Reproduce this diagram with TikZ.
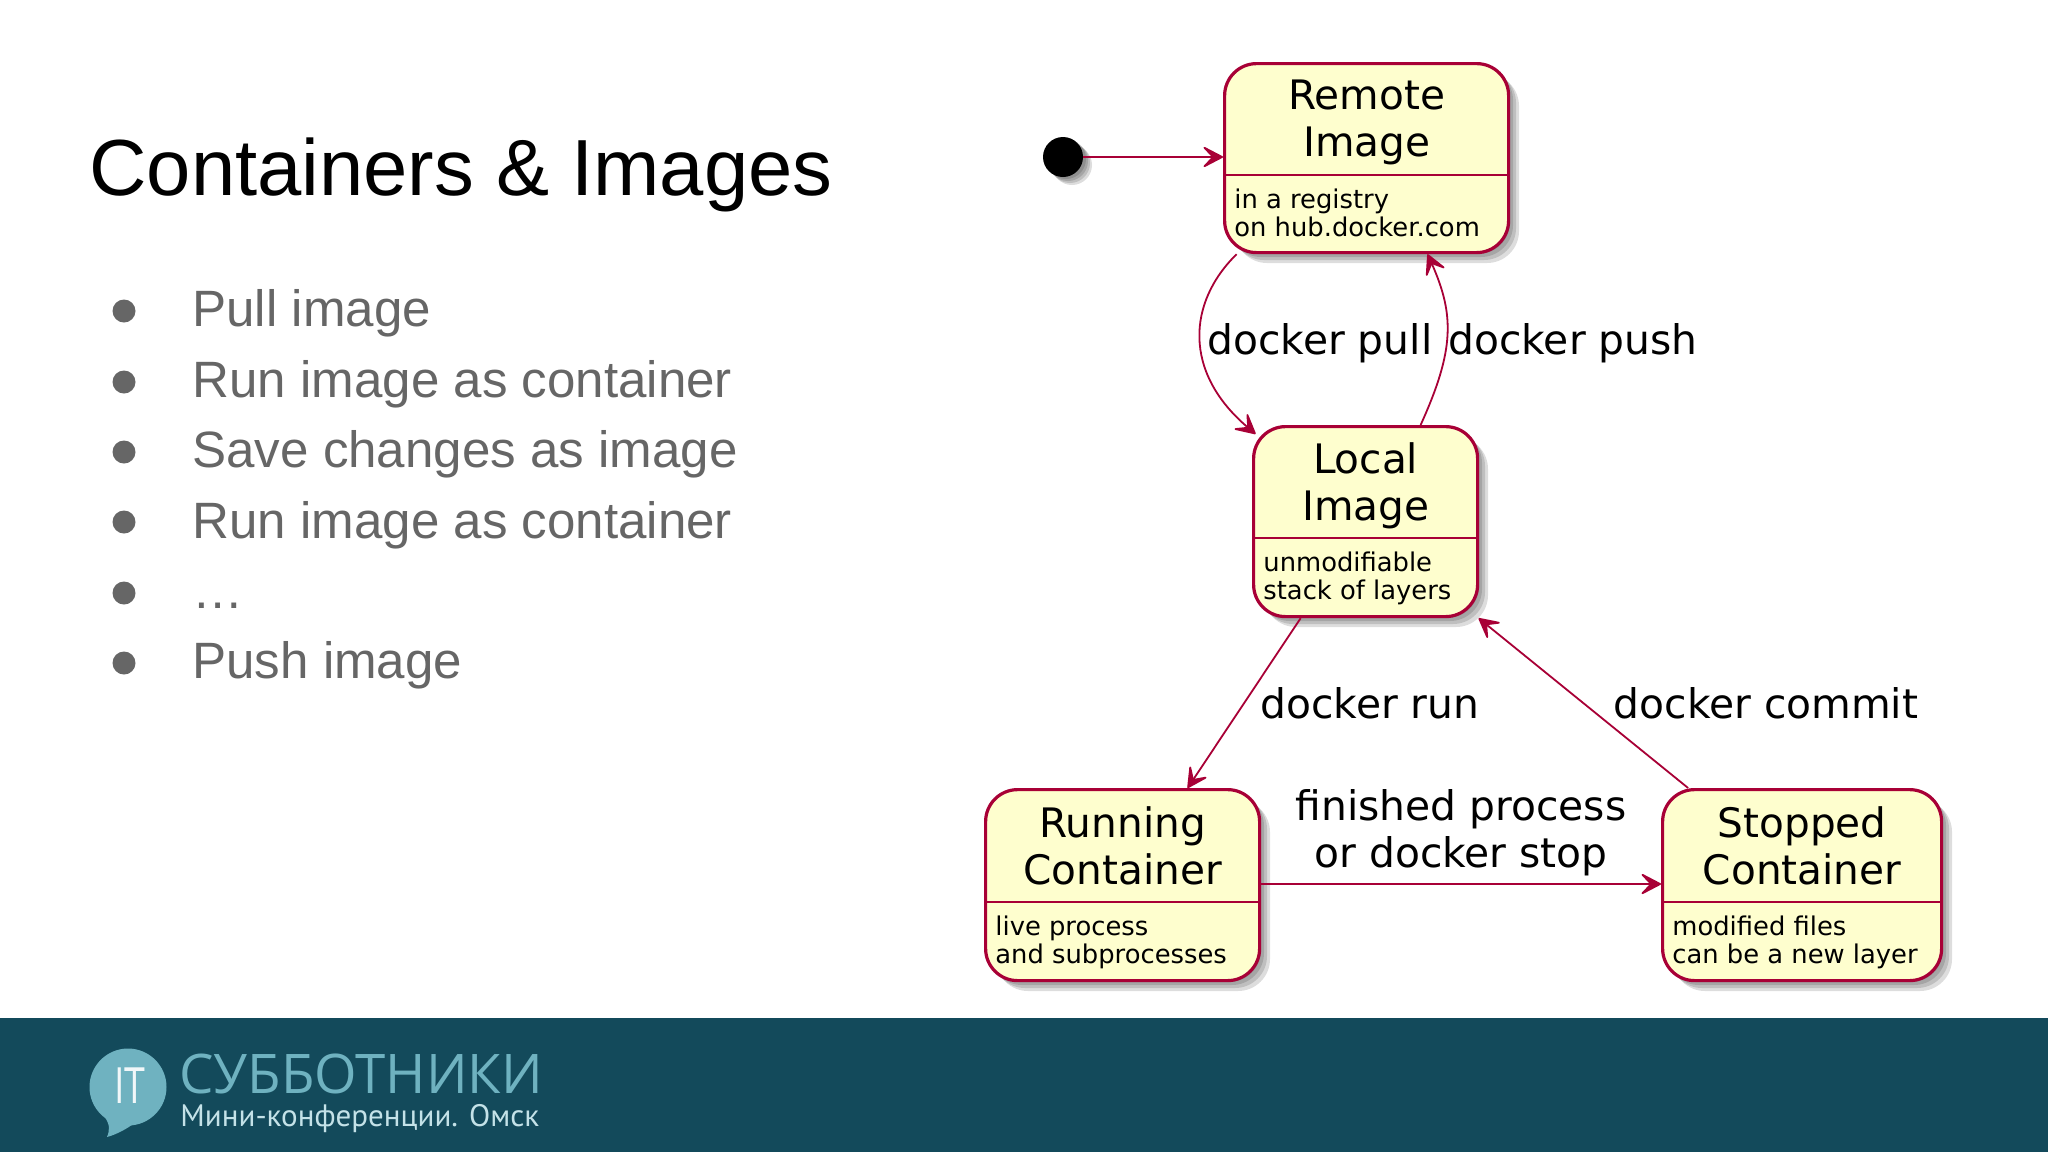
\documentclass[tikz,border=0pt]{standalone}
\usepackage{fontspec}
\setmainfont{Liberation Sans}
\newfontfamily\dejavu{DejaVu Sans}
\newfontfamily\logofont{Open Sans}
\newfontfamily\logosub{PT Sans}
\usetikzlibrary{arrows.meta,calc}
\definecolor{umlborder}{HTML}{A80036}
\definecolor{umlfill}{HTML}{FEFECE}
\definecolor{banner}{HTML}{134A5B}
\definecolor{bullettext}{HTML}{666666}
\definecolor{logoblue}{HTML}{6FB2C0}
\definecolor{logolight}{HTML}{C4E2E8}
\tikzset{
  statebox/.style={draw=umlborder,line width=1.6pt,fill=umlfill,rounded corners=16pt,inner sep=0pt,anchor=north west},
  shadowbox/.style={fill=black,fill opacity=0.135,draw=none,rounded corners=16pt},
  divider/.style={draw=umlborder,line width=1.2pt},
  flow/.style={draw=umlborder,line width=0.9pt,-{Stealth[length=12pt,width=12.5pt,inset=6pt,round]}},
  statetitle/.style={font=\dejavu\fontsize{20.3}{23.5}\selectfont,align=center,anchor=center,inner sep=0pt},
  statebody/.style={font=\dejavu\fontsize{12.9}{14}\selectfont,align=left,anchor=north west,inner sep=0pt},
  edgelabel/.style={font=\dejavu\fontsize{20.4}{23.5}\selectfont,align=center,inner sep=0pt,anchor=center},
  bullettxt/.style={font=\fontsize{25.55}{30}\selectfont,text=bullettext,anchor=base west,inner sep=0pt},
  bulletdot/.style={circle,fill=bullettext,minimum size=11.5pt,inner sep=0pt},
}
% #1 name, #2 left, #3 top, #4 right, #5 bottom, #6 divider y, #7 title, #8 body, #9 title offset
\newcommand{\umlstate}[9]{
  \foreach \d in {3,6,9,12}{
    \fill[shadowbox] ($(#2,#3)+(\d,\d)$) rectangle ($(#4,#5)+(\d,\d)$);
  }
  \node[statebox,minimum width={(#4-#2)*0.5pt},minimum height={(#5-#3)*0.5pt}] (#1) at (#2,#3) {};
  \coordinate (#1dl) at (#2,#6);
  \coordinate (#1dr) at (#4,#6);
  \draw[divider] (#1dl) -- (#1dr);
  \node[statetitle] (#1title) at ($($(#1.north)!0.5!(#1.north|-#1dl)$)+(0,#9)$) {#7};
  \node[statebody] (#1body) at ($(#1dl)+(11,13)$) {#8};
}
\begin{document}
\begin{tikzpicture}[x=0.5pt,y=-0.5pt]
\useasboundingbox (0,0) rectangle (2048,1152);
\fill[white] (0,0) rectangle (2048,1152);
\node[font=\fontsize{39.8}{44}\selectfont,anchor=base west,inner sep=0pt] (title) at (89,195) {Containers \& Images};
\node[bullettxt] (t1) at (192,326) {Pull image};
\node[bullettxt] (t2) at (192,397) {Run image as container};
\node[bullettxt] (t3) at (192,467) {Save changes as image};
\node[bullettxt] (t4) at (192,538) {Run image as container};
\node[bullettxt] (t5) at (192,608) {…};
\node[bullettxt] (t6) at (192,678) {Push image};
\node[bulletdot] (b1) at (124,311) {};
\node[bulletdot] (b2) at (124,382) {};
\node[bulletdot] (b3) at (124,452) {};
\node[bulletdot] (b4) at (124,522) {};
\node[bulletdot] (b5) at (124,593) {};
\node[bulletdot] (b6) at (124,663) {};

\foreach \d in {2,4,6,8}{\fill[shadowbox] (1064+\d,157+\d) circle (20);}
\node[circle,fill=black,minimum size=20pt,inner sep=0pt] (start) at (1063,157) {};
\umlstate{remote}{1223}{62}{1507}{251}{175}{Remote\\Image}{in a registry\\on hub.docker.com}{4}
\umlstate{local}{1252}{425}{1476}{615}{538}{Local\\Image}{unmodifiable\\stack of layers}{4}
\umlstate{running}{984}{788}{1258}{979}{902}{Running\\Container}{live process\\and subprocesses}{1}
\umlstate{stopped}{1661}{788}{1940}{979}{902}{Stopped\\Container}{modified files\\can be a new layer}{1}

\draw[flow] (start) -- (remote.west|-start);
\draw[flow] ([shift={(-130,0)}]remote.south) .. controls ([shift={(-179,48)}]remote.south) and ([shift={(-184,118)}]remote.south) .. ([shift={(-110,9)}]local.north);
\draw[flow] ([shift={(55,0)}]local.north) .. controls ([shift={(89,-75)}]local.north) and ([shift={(89,-110)}]local.north) .. ([shift={(61,0)}]remote.south);
\draw[flow] ([shift={(-65,0)}]local.south) -- ([shift={(65,0)}]running.north);
\draw[flow] ([shift={(-114,0)}]stopped.north) -- ([shift={(113,0)}]local.south);
\draw[flow] (running.east|-1260,884) -- (stopped.west|-1662,884);

\node[edgelabel] (pull) at (1320,343) {docker pull};
\node[edgelabel] (push) at (1573,343) {docker push};
\node[edgelabel] (run) at (1370,703) {docker run};
\node[edgelabel] (commit) at (1766,703) {docker commit};
\node[edgelabel] (finished) at (1461,833) {finished process\\or docker stop};

\fill[banner] (0,1018) rectangle (2048,1152);
\fill[logoblue] (128,1087) circle (38.5);
\fill[logoblue] (104,1116) .. controls (110,1124) and (110,1130) .. (107,1137) .. controls (118,1134) and (128,1128) .. (136,1122) -- cycle;
\node[font=\logofont\fontsize{25}{27}\selectfont,text=white!90!logoblue,inner sep=0pt,xscale=0.75] (it) at (130,1086) {IT};
\node[font=\logofont\fontsize{27.3}{30}\selectfont,text=logoblue,anchor=base west,inner sep=0pt] (sub) at (179,1093) {СУББОТНИКИ};
\node[font=\logosub\fontsize{15.5}{17}\selectfont,text=logolight,anchor=base west,inner sep=0pt] (mini) at (180,1126) {Мини-конференции. Омск};
\end{tikzpicture}
\end{document}
